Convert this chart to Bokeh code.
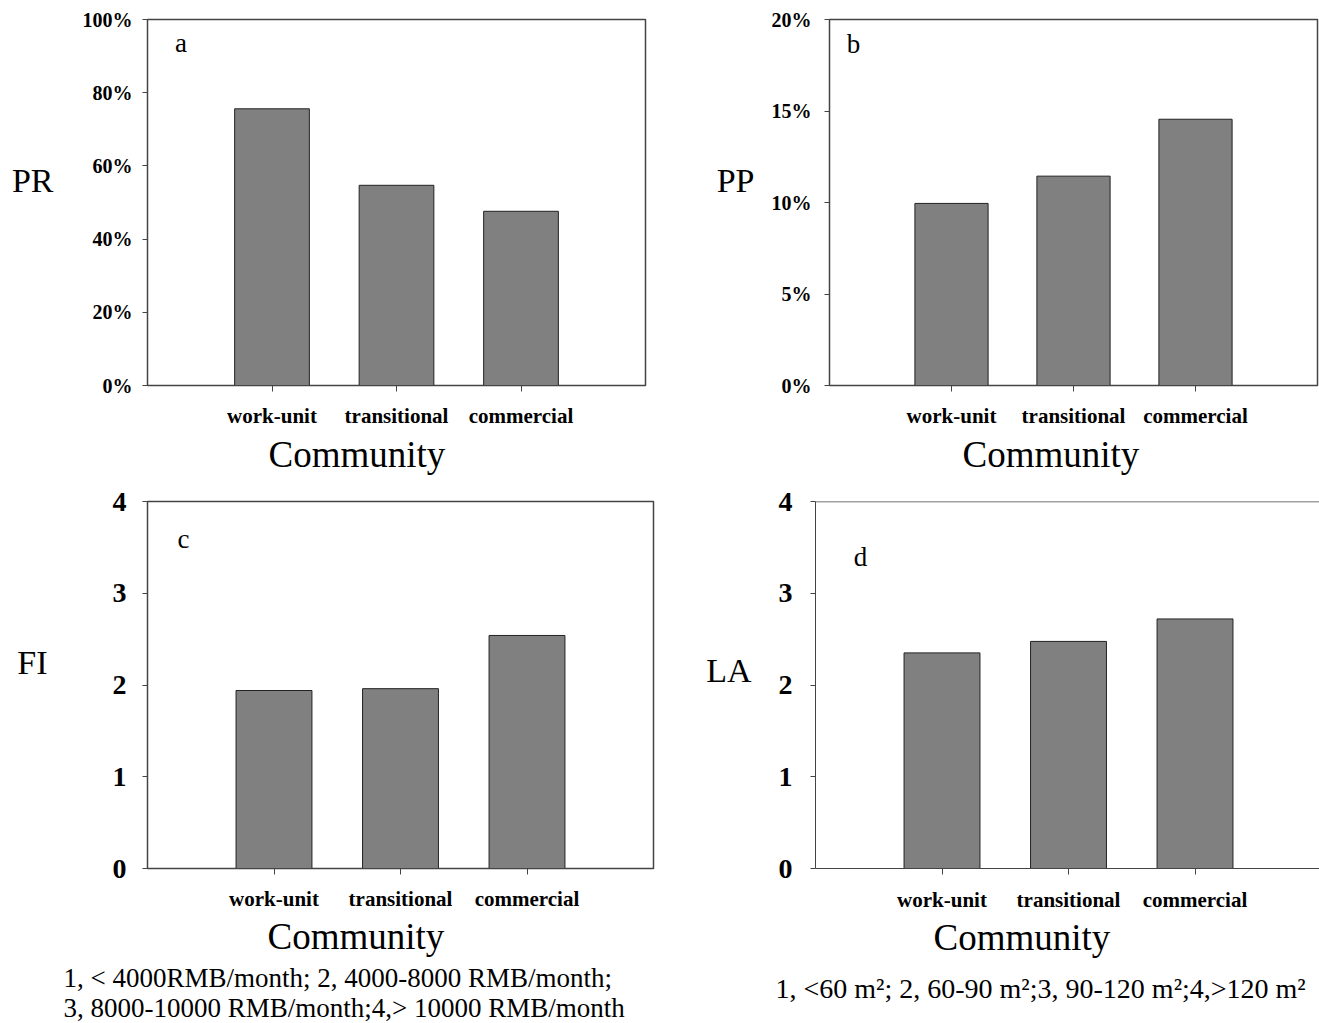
from bokeh.plotting import figure
from bokeh.layouts import row, column
from bokeh.models import Range1d, FixedTicker, Label, Span, PrintfTickFormatter, Title
from bokeh.embed import file_html
from bokeh.resources import INLINE

categories = ["work-unit", "transitional", "commercial"]
PR = [75.6, 54.7, 47.6]
PP = [9.95, 11.44, 14.55]
FI = [1.94, 1.96, 2.54]
LA = [2.35, 2.475, 2.72]
pct_ticks_a = [0, 20, 40, 60, 80, 100]
pct_ticks_b = [0, 5, 10, 15, 20]
int_ticks = [0, 1, 2, 3, 4]
foot_c = ["1, < 4000RMB/month; 2, 4000-8000 RMB/month;",
          "3, 8000-10000 RMB/month;4,> 10000 RMB/month"]
foot_d = "1, <60 m\u00b2; 2, 60-90 m\u00b2;3, 90-120 m\u00b2;4,>120 m\u00b2"

SERIF = "Liberation Serif"
SPINE = "#444444"
xpos = [1, 2, 3]


def panel(values, ymax, yticks, width, height, left, right, top, bottom,
          xmax, tick_fs, tick_standoff, xlab_standoff, pct, outline,
          ylabel, ylabel_standoff, ylabel_lh=1.2):
    p = figure(width=width, height=height, x_range=Range1d(0, xmax),
               y_range=Range1d(0, ymax), output_backend="svg",
               toolbar_location=None, min_border_left=left,
               min_border_right=right, min_border_top=top,
               min_border_bottom=bottom)
    p.xgrid.visible = False
    p.ygrid.visible = False
    p.outline_line_color = SPINE if outline else None
    p.outline_line_width = 1.5
    p.vbar(x=xpos, top=values, width=0.6, bottom=0, fill_color="#808080",
           line_color="#222222", line_width=1)
    # y axis
    ya = p.yaxis[0]
    ya.ticker = FixedTicker(ticks=yticks)
    if pct:
        ya.formatter = PrintfTickFormatter(format="%d%%")
    ya.major_label_text_font = SERIF
    ya.major_label_text_font_style = "bold"
    ya.major_label_text_font_size = tick_fs
    ya.major_label_text_color = "black"
    ya.major_label_standoff = tick_standoff
    ya.major_tick_in = 0
    ya.major_tick_out = 5
    ya.minor_tick_line_color = None
    ya.axis_line_color = SPINE
    ya.major_tick_line_color = SPINE
    ya.axis_label = ylabel + "\n "
    ya.axis_label_orientation = "horizontal"
    ya.axis_label_standoff = ylabel_standoff
    ya.axis_label_text_font = SERIF
    ya.axis_label_text_font_style = "normal"
    ya.axis_label_text_font_size = "34px"
    ya.axis_label_text_line_height = ylabel_lh
    ya.axis_label_text_color = "black"
    # x axis
    xa = p.xaxis[0]
    xa.ticker = FixedTicker(ticks=xpos)
    xa.major_label_overrides = {i + 1: c for i, c in enumerate(categories)}
    xa.major_label_text_font = SERIF
    xa.major_label_text_font_style = "bold"
    xa.major_label_text_font_size = "21px"
    xa.major_label_text_color = "black"
    xa.major_label_standoff = xlab_standoff
    xa.major_tick_in = 0
    xa.major_tick_out = 6
    xa.minor_tick_line_color = None
    xa.axis_line_color = SPINE
    xa.major_tick_line_color = SPINE
    return p


def add_letter(p, x, y, text):
    p.add_layout(Label(x=x, y=y, text=text, text_font=SERIF,
                       text_font_size="27px", text_color="black",
                       text_align="center", text_baseline="alphabetic"))


def add_below(p, text, size, offset, standoff):
    p.add_layout(Title(text=text, align="left", offset=offset,
                       standoff=standoff, text_font=SERIF,
                       text_font_size=size, text_font_style="normal",
                       text_color="black"), "below")


# panel a
pa = panel(PR, 100, pct_ticks_a, 668, 481, 147, 23, 19, 96, 4,
           "20px", 10, 12, True, True, "PR", 26)
add_letter(pa, 0.27, 93.7, "a")
add_below(pa, "Community", "37px", 121, 3)

# panel b
pb = panel(PP, 20, pct_ticks_b, 651, 481, 161, 2, 19, 96, 4,
           "20px", 13, 12, True, True, "PP", 14)
add_letter(pb, 0.197, 18.64, "b")
add_below(pb, "Community", "37px", 133, 3)

# panel c
pc = panel(FI, 4, int_ticks, 668, 542, 147, 15, 20, 155, 4,
           "28px", 16, 12, False, True, "FI", 62)
add_letter(pc, 0.285, 3.59, "c")
add_below(pc, "Community", "37px", 120, 0)
add_below(pc, foot_c[0], "27px", -84, 9)
add_below(pc, foot_c[1], "27px", -84, -13)

# panel d
pd_ = panel(LA, 4, int_ticks, 651, 542, 147, 0, 20, 155, 3.984,
            "28px", 18, 13, False, False, "LA", 24, ylabel_lh=0.8)
pd_.add_layout(Span(location=4, dimension="width", line_color=SPINE,
                    line_width=1.5))
add_letter(pd_, 0.356, 3.39, "d")
add_below(pd_, "Community", "37px", 118, 0)
add_below(pd_, foot_d, "28px", -40, 27)

layout = column(row(pa, pb), row(pc, pd_))
open("out.html", "w").write(file_html(layout, INLINE))
